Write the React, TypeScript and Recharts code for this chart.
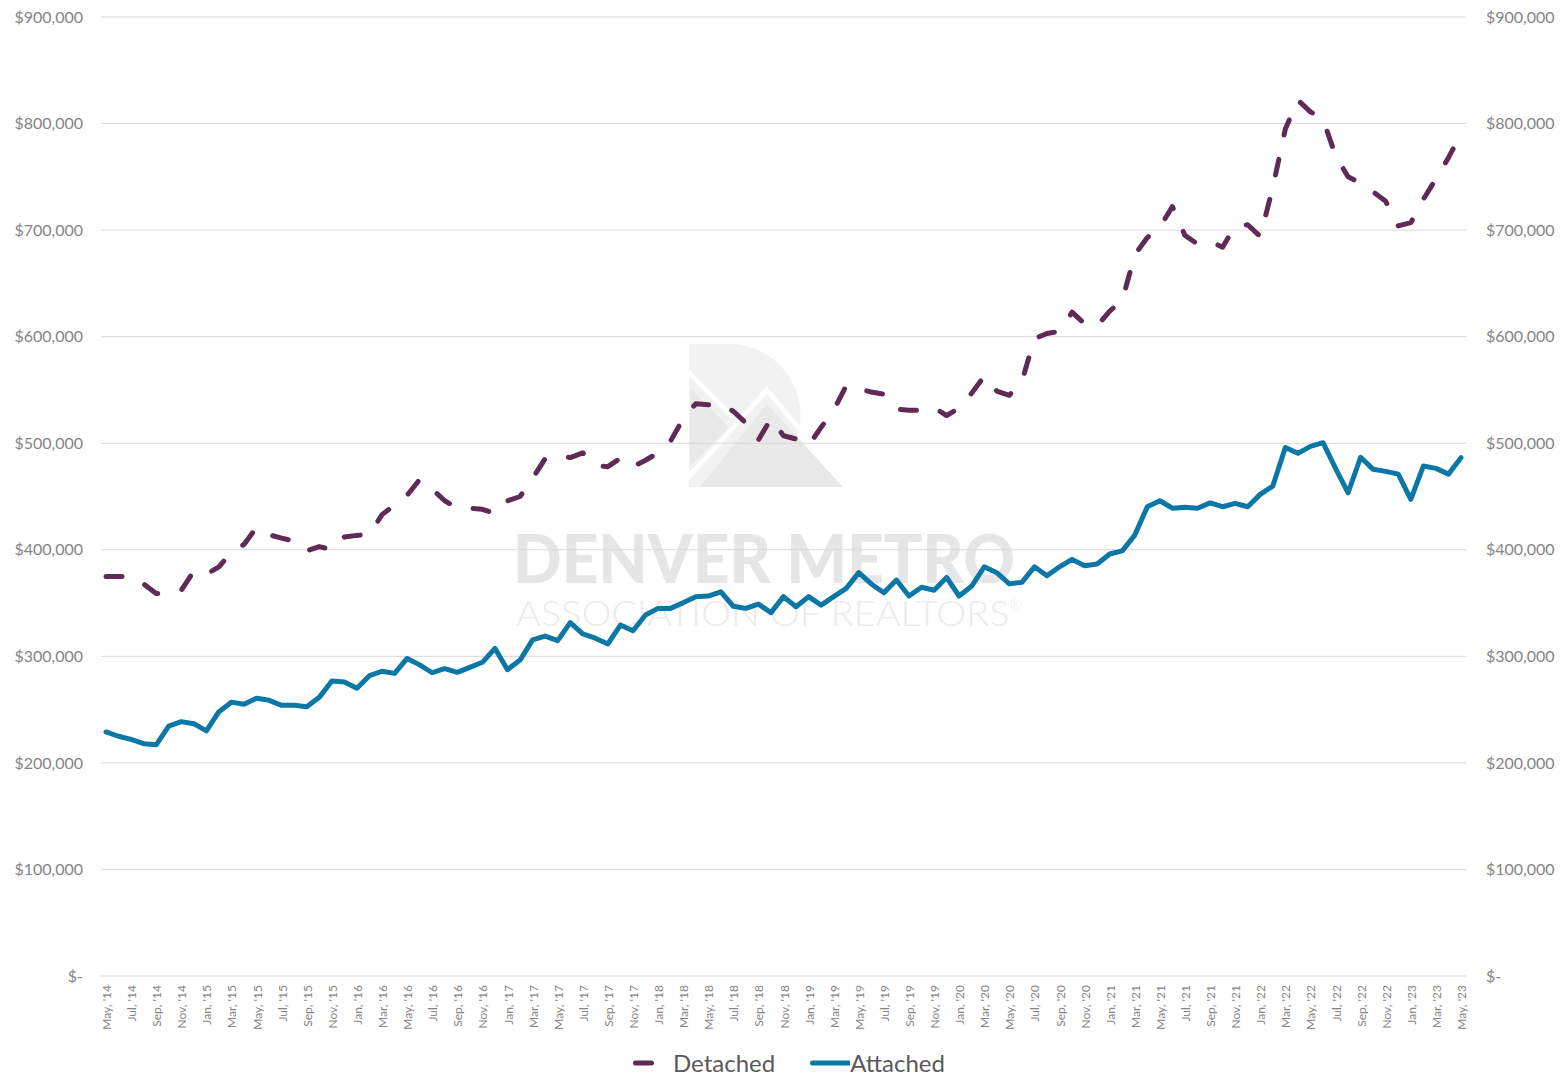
import React from 'react';
import { LineChart, Line, XAxis, YAxis, CartesianGrid, Legend } from 'recharts';

const months: string[] = [
  "May, '14", "Jun, '14", "Jul, '14", "Aug, '14", "Sep, '14", "Oct, '14", "Nov, '14", "Dec, '14",
  "Jan, '15", "Feb, '15", "Mar, '15", "Apr, '15", "May, '15", "Jun, '15", "Jul, '15", "Aug, '15", "Sep, '15", "Oct, '15", "Nov, '15", "Dec, '15",
  "Jan, '16", "Feb, '16", "Mar, '16", "Apr, '16", "May, '16", "Jun, '16", "Jul, '16", "Aug, '16", "Sep, '16", "Oct, '16", "Nov, '16", "Dec, '16",
  "Jan, '17", "Feb, '17", "Mar, '17", "Apr, '17", "May, '17", "Jun, '17", "Jul, '17", "Aug, '17", "Sep, '17", "Oct, '17", "Nov, '17", "Dec, '17",
  "Jan, '18", "Feb, '18", "Mar, '18", "Apr, '18", "May, '18", "Jun, '18", "Jul, '18", "Aug, '18", "Sep, '18", "Oct, '18", "Nov, '18", "Dec, '18",
  "Jan, '19", "Feb, '19", "Mar, '19", "Apr, '19", "May, '19", "Jun, '19", "Jul, '19", "Aug, '19", "Sep, '19", "Oct, '19", "Nov, '19", "Dec, '19",
  "Jan, '20", "Feb, '20", "Mar, '20", "Apr, '20", "May, '20", "Jun, '20", "Jul, '20", "Aug, '20", "Sep, '20", "Oct, '20", "Nov, '20", "Dec, '20",
  "Jan, '21", "Feb, '21", "Mar, '21", "Apr, '21", "May, '21", "Jun, '21", "Jul, '21", "Aug, '21", "Sep, '21", "Oct, '21", "Nov, '21", "Dec, '21",
  "Jan, '22", "Feb, '22", "Mar, '22", "Apr, '22", "May, '22", "Jun, '22", "Jul, '22", "Aug, '22", "Sep, '22", "Oct, '22", "Nov, '22", "Dec, '22",
  "Jan, '23", "Feb, '23", "Mar, '23", "Apr, '23", "May, '23",
];

const detached: number[] = [
  375000, 375000, 375000, 368000, 359000, 359000, 362000, 380000,
  377000, 384000, 398000, 405000, 421000, 414000, 411000, 408000, 399000, 403000, 400000, 412000,
  413500, 414500, 433000, 442000, 451000, 466000, 457000, 446000, 439000, 439000, 438000, 434000,
  446000, 450000, 467000, 485500, 488500, 486500, 491000, 479000, 478000, 486000, 478000, 484000,
  491000, 502000, 523000, 537000, 536000, 537000, 530000, 519000, 503000, 523000, 507000, 504000,
  498000, 515000, 531000, 554000, 551000, 548000, 546000, 532000, 531000, 531000, 533500, 526000,
  533000, 547000, 563000, 549000, 545000, 558000, 598000, 603000, 605000, 623000, 612000, 610000,
  624000, 634000, 677000, 693000, 703000, 722000, 695000, 687000, 689500, 684000, 704000, 705000,
  694000, 740000, 795000, 822000, 811000, 804000, 770000, 750000, 744000, 736000, 727000, 704000,
  707000, 729000, 748000, 768000, 790000,
];

const attached: number[] = [
  229000, 225000, 222000, 218000, 217000, 234600, 238700, 236800,
  230000, 248000, 257000, 255000, 260600, 258700, 254000, 254000, 252700, 261500, 276800, 276000,
  270000, 281800, 286000, 284000, 298000, 292000, 284600, 288400, 285000, 289700, 294400, 307500,
  287500, 296500, 315500, 319000, 314700, 331600, 321000, 317000, 311600, 329400, 324000, 338800,
  345000, 345000, 350300, 356000, 356600, 360600, 347000, 345000, 349000, 341000, 356000, 346600,
  356000, 348000, 356000, 363800, 378500, 367900, 359700, 371600, 356600, 364800, 362000, 374000,
  356600, 366000, 384000, 378500, 368000, 369400, 384000, 375700, 384000, 391000, 385000, 386600,
  396000, 399000, 413800, 440400, 446000, 439000, 439800, 439000, 444000, 440400, 443600, 440400,
  452000, 459800, 496000, 490500, 497000, 500500, 476400, 453500, 486800, 475500, 473600, 471000,
  447400, 478600, 476400, 471000, 486400,
];

const yTicks: number[] = [0, 100000, 200000, 300000, 400000, 500000, 600000, 700000, 800000, 900000];

const seriesNames = ['Detached', 'Attached'];

const data = months.map((m, i) => ({ month: m, Detached: detached[i], Attached: attached[i] }));

const PURPLE = '#5f2a56';
const BLUE = '#0a77a6';
const AXIS_TEXT = '#858585';
const FONT = 'Lato, "Open Sans", sans-serif';

const fmt = (v: number) => (v === 0 ? '$-' : '$' + v.toLocaleString('en-US'));

const XTick = (props: any) => {
  const { x, y, payload } = props;
  return (
    <text
      x={x}
      y={y}
      transform={`rotate(-90, ${x}, ${y})`}
      textAnchor="end"
      dy="0.42em"
      fill={AXIS_TEXT}
      fontSize={12}
      fontFamily={FONT}
    >
      {payload.value}
    </text>
  );
};

const LegendContent = () => (
  <div
    style={{
      display: 'flex',
      alignItems: 'center',
      height: 24,
      paddingLeft: 633,
      fontFamily: FONT,
      fontSize: 24,
      color: '#595959',
      lineHeight: '24px',
    }}
  >
    <svg width={40} height={10} style={{ display: 'block' }}>
      <line x1={2.5} y1={5} x2={40} y2={5} stroke={PURPLE} strokeWidth={5} strokeDasharray="16 25" strokeLinecap="round" />
    </svg>
    <span style={{ marginRight: 35 }}>{seriesNames[0]}</span>
    <svg width={40} height={10} style={{ display: 'block' }}>
      <line x1={2.5} y1={5} x2={40} y2={5} stroke={BLUE} strokeWidth={5} strokeLinecap="round" />
    </svg>
    <span>{seriesNames[1]}</span>
  </div>
);

const Watermark = () => (
  <svg width={1564} height={1075} style={{ position: 'absolute', left: 0, top: 0 }}>
    <path d="M689,344 H729 A71.5,71.5 0 0 1 729,487 H689 Z" fill="#f2f2f2" />
    <polygon points="690,388 729,427 690,466" fill="#e9e9e9" />
    <polygon points="700,487 767,404 843,487" fill="#e9e9e9" />
    <line x1={688} y1={372} x2={732} y2={416} stroke="#ffffff" strokeWidth={5} />
    <polyline points="686,480 767,390 850,490" fill="none" stroke="#ffffff" strokeWidth={5} />
    <text x={513} y={583} fontFamily={FONT} fontWeight={900} fontSize={66} fill="#e6e6e6" textLength={502} lengthAdjust="spacingAndGlyphs">
      DENVER METRO
    </text>
    <text x={516} y={626} fontFamily={FONT} fontWeight={300} fontSize={36} fill="#ebebeb" textLength={506} lengthAdjust="spacingAndGlyphs">
      ASSOCIATION OF REALTORS<tspan fontSize={14} dy={-16}>®</tspan>
    </text>
  </svg>
);

export default function App() {
  return (
    <div style={{ position: 'absolute', left: 0, top: 0, width: 1564, height: 1075, background: '#ffffff' }}>
      <Watermark />
      <div style={{ position: 'absolute', left: 0, top: 0 }}>
        <LineChart width={1564} height={1075} data={data} margin={{ top: 17, right: 0, bottom: 0, left: 0 }}>
          <CartesianGrid vertical={false} stroke="#d9d9d9" strokeWidth={1} />
          <XAxis
            dataKey="month"
            interval={1}
            tickLine={false}
            axisLine={false}
            tickSize={0}
            tickMargin={9}
            height={75}
            padding={{ left: 5, right: 5 }}
            tick={<XTick />}
          />
          <YAxis
            domain={[0, 900000]}
            ticks={yTicks}
            tickFormatter={fmt}
            width={101}
            tickLine={false}
            axisLine={false}
            tickSize={0}
            tickMargin={18}
            tick={{ fill: AXIS_TEXT, fontSize: 16, fontFamily: FONT }}
          />
          <YAxis
            yAxisId="right"
            orientation="right"
            domain={[0, 900000]}
            ticks={yTicks}
            tickFormatter={fmt}
            width={98}
            tickLine={false}
            axisLine={false}
            tickSize={0}
            tickMargin={20}
            tick={{ fill: AXIS_TEXT, fontSize: 16, fontFamily: FONT, textAnchor: 'start' }}
          />
          <Legend verticalAlign="bottom" height={24} content={<LegendContent />} />
          <Line
            type="linear"
            dataKey="Detached"
            stroke={PURPLE}
            strokeWidth={5}
            strokeDasharray="16 25"
            strokeLinecap="round"
            strokeLinejoin="round"
            dot={false}
            activeDot={false}
            isAnimationActive={false}
          />
          <Line
            type="linear"
            yAxisId="right"
            dataKey="Attached"
            stroke={BLUE}
            strokeWidth={5}
            strokeLinecap="round"
            strokeLinejoin="round"
            dot={false}
            activeDot={false}
            isAnimationActive={false}
          />
        </LineChart>
      </div>
    </div>
  );
}
